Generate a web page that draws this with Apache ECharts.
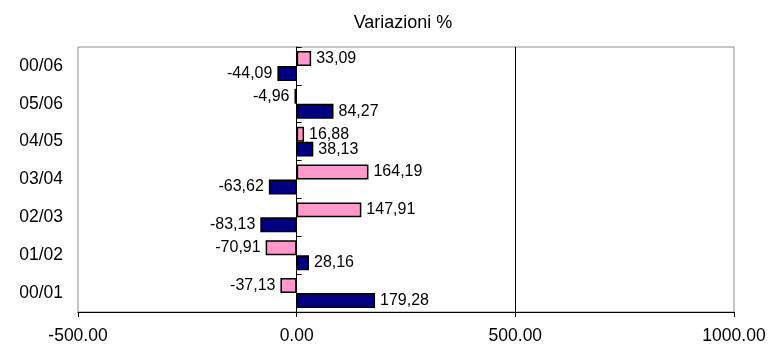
<!DOCTYPE html>
<html><head><meta charset="utf-8">
<script src="https://cdn.jsdelivr.net/npm/echarts@6/dist/echarts.min.js"></script>
<style>html,body{margin:0;padding:0;background:#fff}#c{width:769px;height:345px}</style>
</head><body><div id="c"></div>
<script>
const categories = ['00/01','01/02','02/03','03/04','04/05','05/06','00/06'];
const pinkValues = [-37.13, -70.91, 147.91, 164.19, 16.88, -4.96, 33.09];
const blueValues = [179.28, 28.16, -83.13, -63.62, 38.13, 84.27, -44.09];
const xTicks = { min: -500, max: 1000, interval: 500 };
const titleText = 'Variazioni %';

const font = 'Liberation Sans, Arial, sans-serif';
function lab(v){ return v.toFixed(2).replace('.', ','); }
function mk(vals){ return vals.map(v => ({ value: v, label: { position: v < 0 ? 'left' : 'right' } })); }

const chart = echarts.init(document.getElementById('c'));
chart.setOption({
  animation: false,
  title: { text: titleText, left: 398, top: 9, textAlign: 'center',
    textStyle: { fontFamily: font, fontSize: 18, fontWeight: 'normal', color: '#000' } },
  grid: { left: 78, right: 35, top: 47, bottom: 33, show: true, borderColor: '#8c8c8c', borderWidth: 1 },
  xAxis: { type: 'value', min: xTicks.min, max: xTicks.max, interval: xTicks.interval,
    axisLine: { show: true, lineStyle: { color: '#000', width: 1 } },
    axisTick: { show: true, length: 5, lineStyle: { color: '#000' } },
    axisLabel: { color: '#000', fontFamily: font, fontSize: 17.5, margin: 15, formatter: v => v.toFixed(2) },
    splitLine: { show: true, lineStyle: { color: ['rgba(0,0,0,0)','rgba(0,0,0,0)','#000','rgba(0,0,0,0)'], width: 1 } } },
  yAxis: [
    { type: 'category', data: categories, position: 'left',
      axisLine: { show: false, onZero: false }, axisTick: { show: false },
      axisLabel: { color: '#000', fontFamily: font, fontSize: 17.5, margin: 15 } },
    { type: 'category', data: categories,
      axisLine: { show: true, onZero: true, lineStyle: { color: '#000' } },
      axisTick: { show: true, length: 5, lineStyle: { color: '#000' } },
      axisLabel: { show: false } }
  ],
  series: [
    { type: 'bar', name: 'b', data: mk(pinkValues), yAxisIndex: 0, barGap: '0%', barCategoryGap: '21%',
      itemStyle: { color: '#FF99CC', borderColor: '#000', borderWidth: 1.5 },
      label: { show: true, formatter: p => lab(p.value), color: '#000', fontFamily: font, fontSize: 16, distance: 5 } },
    { type: 'bar', name: 'a', data: mk(blueValues), yAxisIndex: 0, barGap: '0%', barCategoryGap: '21%',
      itemStyle: { color: '#000080', borderColor: '#000', borderWidth: 1.5 },
      label: { show: true, formatter: p => lab(p.value), color: '#000', fontFamily: font, fontSize: 16, distance: 5 } }
  ]
});
</script></body></html>
